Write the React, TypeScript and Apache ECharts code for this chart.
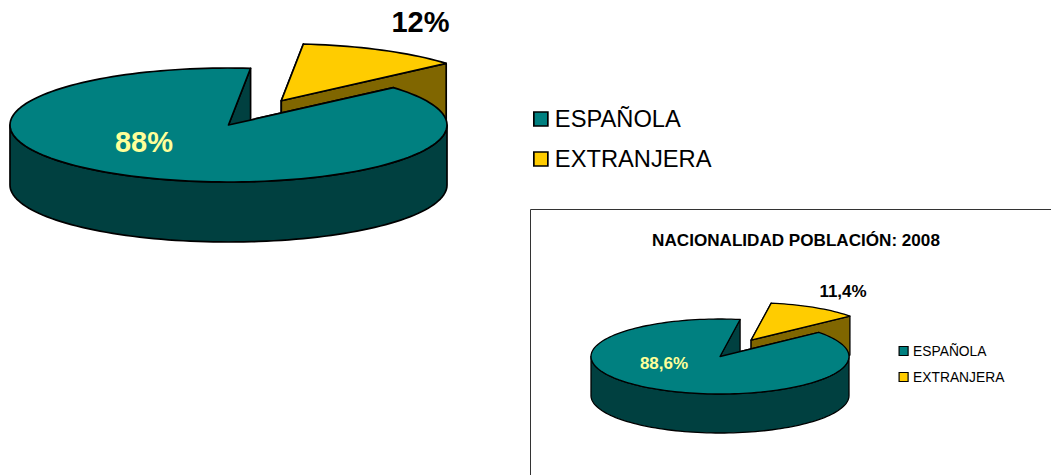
import React, { useEffect, useRef } from "react";
import * as echarts from "echarts";

const categories = ["ESPAÑOLA", "EXTRANJERA"];
const valuesFirst = [88, 12];
const labelsFirst = ["88%", "12%"];
const valuesSecond = [88.6, 11.4];
const labelsSecond = ["88,6%", "11,4%"];
const chartTitle = "NACIONALIDAD POBLACIÓN: 2008";

const FONT = '"Liberation Sans", Arial, sans-serif';
const topColors = ["#008080", "#FFCC00"];
const sideColors = ["#004040", "#806600"];

type Pie = {
  cx: number; cy: number; rx: number; ry: number; depth: number; startDeg: number;
  explode: number[][]; lineWidth: number; fontSize: number;
  labelPos: number[][]; labelColors: string[];
};

const bigPie: Pie = {
  cx: 228.5, cy: 125, rx: 218.5, ry: 57, depth: 60, startDeg: 49,
  explode: [[0, 0], [0.525, 0.48]], lineWidth: 1.7, fontSize: 29,
  labelPos: [[144, 142], [420.5, 22]], labelColors: ["#FFFF99", "#000000"],
};
const smallPie: Pie = {
  cx: 720, cy: 356.5, rx: 129, ry: 37.5, depth: 39, startDeg: 50,
  explode: [[0, 0], [0.49, 0.5]], lineWidth: 1.3, fontSize: 17,
  labelPos: [[664, 363], [843, 291]], labelColors: ["#FFFF99", "#000000"],
};

function sliceGroup(pie: Pie, values: number[], labels: string[], idx: number, value: number) {
  const total = values.reduce((a, b) => a + b, 0);
  const prior = values.slice(0, idx).reduce((a, b) => a + b, 0);
  const a0 = pie.startDeg + (prior / total) * 360;
  const a1 = a0 + (value / total) * 360;
  const mid = ((a0 + a1) / 2) * (Math.PI / 180);
  const ox = pie.cx + pie.rx * Math.sin(mid) * pie.explode[idx][0];
  const oy = pie.cy - pie.ry * Math.cos(mid) * pie.explode[idx][1];
  const at = (deg: number, dy = 0) => {
    const t = (deg * Math.PI) / 180;
    return [ox + pie.rx * Math.sin(t), oy - pie.ry * Math.cos(t) + dy];
  };
  const arc = (from: number, to: number, dy = 0) => {
    const n = Math.max(2, Math.ceil(Math.abs(to - from) / 2));
    const pts: number[][] = [];
    for (let i = 0; i <= n; i++) pts.push(at(from + ((to - from) * i) / n, dy));
    return pts;
  };
  const stroke = { stroke: "#000", lineWidth: pie.lineWidth, lineJoin: "round" };
  const poly = (points: number[][], fill: string) => ({
    type: "polygon", shape: { points }, style: { fill, ...stroke },
  });
  const children: any[] = [];
  const side = sideColors[idx];
  for (const edge of [a0, a1]) {
    children.push(poly([[ox, oy], at(edge), at(edge, pie.depth), [ox, oy + pie.depth]], side));
  }
  // visible (front) part of the rim: where the angle lies in the lower half
  for (const k of [0, 1]) {
    const lo = Math.max(a0, 90 + k * 360);
    const hi = Math.min(a1, 270 + k * 360);
    if (hi > lo) children.push(poly([...arc(lo, hi), ...arc(hi, lo, pie.depth)], side));
  }
  children.push(poly([[ox, oy], ...arc(a0, a1)], topColors[idx]));
  children.push({
    type: "text",
    x: pie.labelPos[idx][0],
    y: pie.labelPos[idx][1],
    style: {
      text: labels[idx], fontFamily: FONT, fontWeight: "bold", fontSize: pie.fontSize,
      fill: pie.labelColors[idx], align: "center", verticalAlign: "middle",
    },
  });
  return { type: "group", children };
}

function pieSeries(pie: Pie, values: number[], labels: string[]) {
  // the exploded slice sits behind the main one, so it is painted first
  return [1, 0].map((idx) => ({
    type: "custom",
    name: categories[idx],
    coordinateSystem: "none",
    itemStyle: { color: topColors[idx] },
    data: [[values[idx]]],
    renderItem: (_p: any, api: any) => sliceGroup(pie, values, labels, idx, api.value(0)),
    silent: true,
  }));
}

export default function App() {
  const ref = useRef<HTMLDivElement>(null);
  useEffect(() => {
    document.body.style.margin = "0";
    document.body.style.overflow = "hidden";
    const chart = echarts.init(ref.current!, undefined, { renderer: "svg" });
    chart.setOption({
      animation: false,
      backgroundColor: "#fff",
      title: {
        text: chartTitle, left: 796, top: 232, textAlign: "center", padding: 0,
        textStyle: { fontFamily: FONT, fontSize: 17.1, fontWeight: "bold", color: "#000" },
      },
      legend: [
        {
          data: categories, orient: "vertical", left: 533, top: 107, padding: 0,
          itemWidth: 14, itemHeight: 14, itemGap: 16, icon: "rect", selectedMode: false,
          itemStyle: { borderColor: "#000", borderWidth: 1.7 },
          textStyle: { fontFamily: FONT, fontSize: 23.7, color: "#000", padding: [0, 0, 0, 2] },
        },
        {
          data: categories, orient: "vertical", left: 898.5, top: 344, padding: 0,
          itemWidth: 9, itemHeight: 9, itemGap: 12, icon: "rect", selectedMode: false,
          itemStyle: { borderColor: "#000", borderWidth: 1.2 },
          textStyle: { fontFamily: FONT, fontSize: 13.8, color: "#000" },
        },
      ],
      graphic: [
        {
          type: "rect", z: -1, silent: true,
          shape: { x: 530.5, y: 209.5, width: 700, height: 400 },
          style: { fill: "#fff", stroke: "#333", lineWidth: 1 },
        },
      ],
      series: [...pieSeries(bigPie, valuesFirst, labelsFirst), ...pieSeries(smallPie, valuesSecond, labelsSecond)],
    });
    return () => chart.dispose();
  }, []);
  return <div ref={ref} style={{ position: "absolute", left: 0, top: 0, width: 1051, height: 475 }} />;
}
